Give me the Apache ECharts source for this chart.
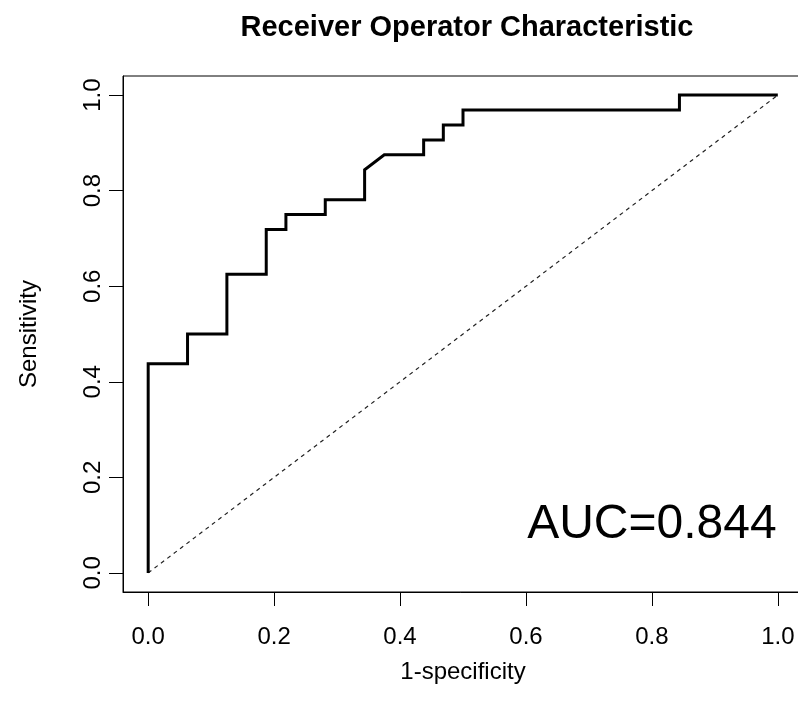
<!DOCTYPE html>
<html>
<head>
<meta charset="utf-8">
<script src="https://cdn.jsdelivr.net/npm/echarts@6/dist/echarts.min.js"></script>
<style>html,body{margin:0;padding:0;background:#fff;}#c{width:798px;height:712px;}</style>
</head>
<body>
<div id="c"></div>
<script>
// ROC curve points (1-specificity, sensitivity)
var fpr = [0, 0, 0.0625, 0.0625, 0.125, 0.125, 0.1875, 0.1875, 0.21875, 0.21875, 0.28125, 0.28125, 0.34375, 0.34375, 0.375, 0.4375, 0.4375, 0.46875, 0.46875, 0.5, 0.5, 0.84375, 0.84375, 1];
var tpr = [0, 0.4375, 0.4375, 0.5, 0.5, 0.625, 0.625, 0.71875, 0.71875, 0.75, 0.75, 0.78125, 0.78125, 0.84375, 0.875, 0.875, 0.90625, 0.90625, 0.9375, 0.9375, 0.96875, 0.96875, 1, 1];
var refX = [0, 1];
var refY = [0, 1];
var xTicks = [0, 0.2, 0.4, 0.6, 0.8, 1.0];
var yTicks = [0, 0.2, 0.4, 0.6, 0.8, 1.0];
var aucLabel = "AUC=0.844";
var aucPos = [0.8, 0.1];

var FONT = "'Liberation Sans', Arial, Helvetica, sans-serif";
var roc = fpr.map(function (x, i) { return [x, tpr[i]]; });
var ref = refX.map(function (x, i) { return [x, refY[i]]; });

var chart = echarts.init(document.getElementById('c'), null, { renderer: 'canvas' });
chart.setOption({
  animation: false,
  backgroundColor: '#fff',
  title: {
    text: 'Receiver Operator Characteristic',
    left: 462, top: 8, textAlign: 'center',
    textStyle: { fontFamily: FONT, fontWeight: 'bold', fontSize: 29, color: '#000' }
  },
  grid: {
    left: 123, top: 76, width: 680, height: 516,
    outerBoundsMode: 'none', containLabel: false,
    show: true, borderColor: '#000', borderWidth: 1, backgroundColor: 'transparent'
  },
  xAxis: {
    type: 'value', min: -0.04, max: 1.04,
    name: '1-specificity', nameLocation: 'middle', nameGap: 68,
    nameTextStyle: { fontFamily: FONT, fontSize: 24, color: '#000' },
    axisLine: { show: true, onZero: false, lineStyle: { color: '#000', width: 1 } },
    axisTick: { show: true, inside: false, length: 14, customValues: xTicks, lineStyle: { color: '#000', width: 1 } },
    axisLabel: { show: true, margin: 33, customValues: xTicks, fontFamily: FONT, fontSize: 24, color: '#000',
      formatter: function (v) { return v.toFixed(1); } },
    splitLine: { show: false }
  },
  yAxis: {
    type: 'value', min: -0.04, max: 1.04,
    name: 'Sensitivity', nameLocation: 'middle', nameGap: 82, nameRotate: 90,
    nameTextStyle: { fontFamily: FONT, fontSize: 24, color: '#000' },
    axisLine: { show: true, onZero: false, lineStyle: { color: '#000', width: 1 } },
    axisTick: { show: true, inside: false, length: 14, customValues: yTicks, lineStyle: { color: '#000', width: 1 } },
    axisLabel: { show: true, margin: 18, rotate: 90, customValues: yTicks, fontFamily: FONT, fontSize: 24, color: '#000',
      formatter: function (v) { return v.toFixed(1); } },
    splitLine: { show: false }
  },
  series: [
    {
      type: 'line', data: ref, showSymbol: false, symbol: 'none', silent: true,
      lineStyle: { color: '#222', width: 1.2, type: [4, 4] }, z: 2
    },
    {
      type: 'line', data: roc, showSymbol: false, symbol: 'none', silent: true,
      lineStyle: { color: '#000', width: 3, join: 'miter' }, z: 3
    },
    {
      type: 'scatter', data: [aucPos], symbolSize: 0, silent: true, z: 4,
      itemStyle: { color: '#000', opacity: 1 },
      label: { show: true, position: 'inside', formatter: aucLabel,
        fontFamily: FONT, fontSize: 48, color: '#000', opacity: 1, textBorderWidth: 0 }
    }
  ]
});
</script>
</body>
</html>
